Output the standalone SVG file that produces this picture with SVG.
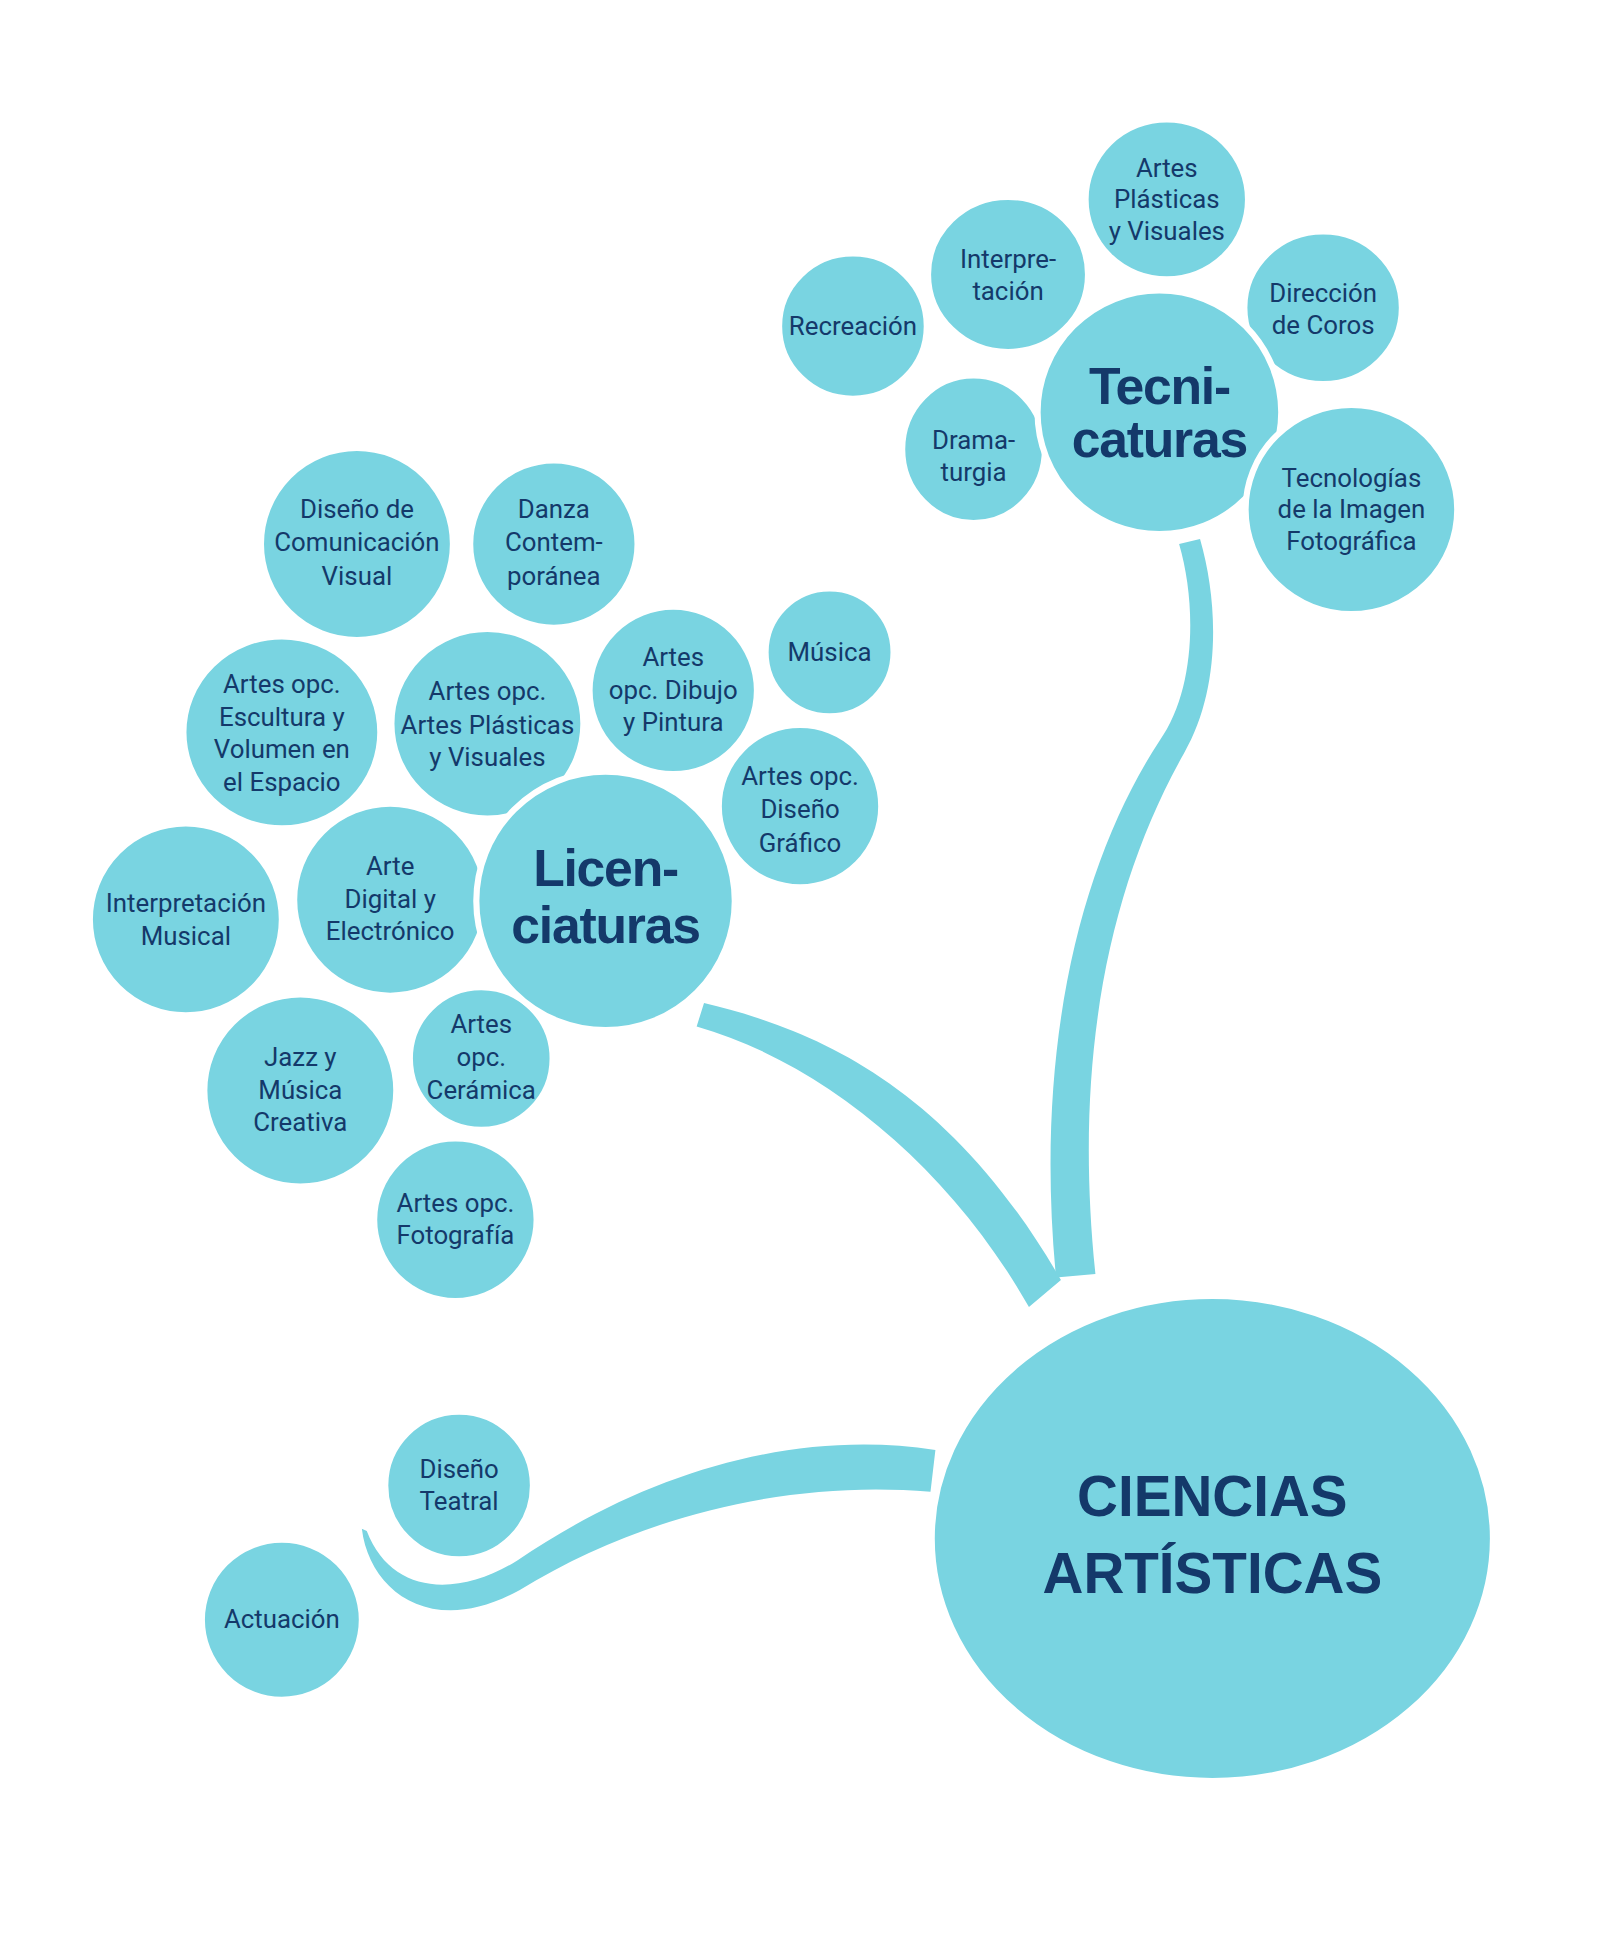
<svg xmlns="http://www.w3.org/2000/svg" width="1600" height="1941" viewBox="0 0 1600 1941">
<style>
.n{fill:#79d4e1;stroke:#fff;stroke-width:5}
.b{fill:#79d4e1}
text{font-family:Roboto,"Liberation Sans",sans-serif;fill:#14396a;text-anchor:middle}
.s{font-size:21px}
.h{font-family:"Liberation Sans",sans-serif;font-weight:bold;font-size:42px;letter-spacing:-1px}
.m{font-family:"Liberation Sans",sans-serif;font-weight:bold;font-size:46px}
</style>
<rect width="1600" height="1941" fill="#fff"/>
<g transform="scale(1.2308)">
<g id="connectors">
<path class="b" d="M572,815 C660,836 770,880 862,1040 L836,1062 C770,945 665,862 566,834 Z"/>
<path class="b" d="M958,442 C972,490 972,560 942,602 C878,700 840,850 858,1038 L890,1035 C872,862 900,722 962,612 C992,560 990,490 975,438 Z"/>
<path class="b" d="M760,1178 C640,1160 520,1200 420,1268 C372,1298 318,1296 298,1244 L294,1242 C300,1292 350,1332 422,1292 C520,1232 640,1202 756,1212 Z"/>
</g>
<g id="n-recreacion"><ellipse class="n" cx="693" cy="265" rx="60" ry="59"/><text class="s" x="693" y="272">Recreación</text></g>
<g id="n-interpretacion"><ellipse class="n" cx="819" cy="223" rx="65" ry="63"/><text class="s" x="819" y="218">Interpre-</text><text class="s" x="819" y="244">tación</text></g>
<g id="n-apv"><ellipse class="n" cx="948" cy="162" rx="66" ry="65"/><text class="s" x="948" y="144">Artes</text><text class="s" x="948" y="169">Plásticas</text><text class="s" x="948" y="195">y Visuales</text></g>
<g id="n-coros"><ellipse class="n" cx="1075" cy="250" rx="64" ry="62"/><text class="s" x="1075" y="245">Dirección</text><text class="s" x="1075" y="271">de Coros</text></g>
<g id="n-drama"><ellipse class="n" cx="791" cy="365" rx="58" ry="60"/><text class="s" x="791" y="365">Drama-</text><text class="s" x="791" y="391">turgia</text></g>
<g id="n-tecnicaturas"><ellipse class="n" cx="942" cy="335" rx="99" ry="99"/><text class="h" x="942" y="328">Tecni-</text><text class="h" x="942" y="371">caturas</text></g>
<g id="n-tecimg"><ellipse class="n" cx="1098" cy="414" rx="86" ry="85"/><text class="s" x="1098" y="396">Tecnologías</text><text class="s" x="1098" y="421">de la Imagen</text><text class="s" x="1098" y="447">Fotográfica</text></g>

<g id="n-dcv"><ellipse class="n" cx="290" cy="442" rx="78" ry="78"/><text class="s" x="290" y="421">Diseño de</text><text class="s" x="290" y="448">Comunicación</text><text class="s" x="290" y="475">Visual</text></g>
<g id="n-danza"><ellipse class="n" cx="450" cy="442" rx="68" ry="68"/><text class="s" x="450" y="421">Danza</text><text class="s" x="450" y="448">Contem-</text><text class="s" x="450" y="475">poránea</text></g>
<g id="n-escultura"><ellipse class="n" cx="229" cy="595" rx="80" ry="78"/><text class="s" x="229" y="563">Artes opc.</text><text class="s" x="229" y="590">Escultura y</text><text class="s" x="229" y="616">Volumen en</text><text class="s" x="229" y="643">el Espacio</text></g>
<g id="n-dibujo"><ellipse class="n" cx="547" cy="561" rx="68" ry="68"/><text class="s" x="547" y="541">Artes</text><text class="s" x="547" y="568">opc. Dibujo</text><text class="s" x="547" y="594">y Pintura</text></g>
<g id="n-apv2"><ellipse class="n" cx="396" cy="588" rx="78" ry="77"/><text class="s" x="396" y="569">Artes opc.</text><text class="s" x="396" y="596">Artes Plásticas</text><text class="s" x="396" y="622">y Visuales</text></g>
<g id="n-musica"><ellipse class="n" cx="674" cy="530" rx="52" ry="52"/><text class="s" x="674" y="537">Música</text></g>
<g id="n-grafico"><ellipse class="n" cx="650" cy="655" rx="66" ry="66"/><text class="s" x="650" y="638">Artes opc.</text><text class="s" x="650" y="665">Diseño</text><text class="s" x="650" y="692">Gráfico</text></g>
<g id="n-intmus"><ellipse class="n" cx="151" cy="747" rx="78" ry="78"/><text class="s" x="151" y="741">Interpretación</text><text class="s" x="151" y="768">Musical</text></g>
<g id="n-digital"><ellipse class="n" cx="317" cy="731" rx="78" ry="78"/><text class="s" x="317" y="711">Arte</text><text class="s" x="317" y="738">Digital y</text><text class="s" x="317" y="764">Electrónico</text></g>
<g id="n-jazz"><ellipse class="n" cx="244" cy="886" rx="78" ry="78"/><text class="s" x="244" y="866">Jazz y</text><text class="s" x="244" y="893">Música</text><text class="s" x="244" y="919">Creativa</text></g>
<g id="n-fotografia"><ellipse class="n" cx="370" cy="991" rx="66" ry="66"/><text class="s" x="370" y="985">Artes opc.</text><text class="s" x="370" y="1011">Fotografía</text></g>
<g id="n-ceramica"><ellipse class="n" cx="391" cy="860" rx="58" ry="58"/><text class="s" x="391" y="839">Artes</text><text class="s" x="391" y="866">opc.</text><text class="s" x="391" y="893">Cerámica</text></g>
<g id="n-licenciaturas"><ellipse class="n" cx="492" cy="732" rx="105" ry="105"/><text class="h" x="492" y="720">Licen-</text><text class="h" x="492" y="766">ciaturas</text></g>

<g id="n-disteatral"><ellipse class="n" cx="373" cy="1207" rx="60" ry="60"/><text class="s" x="373" y="1201">Diseño</text><text class="s" x="373" y="1227">Teatral</text></g>
<g id="n-actuacion"><ellipse class="n" cx="229" cy="1316" rx="65" ry="65"/><text class="s" x="229" y="1323">Actuación</text></g>
<g id="n-ciencias"><ellipse class="n" cx="985" cy="1250" rx="228" ry="197"/><text class="m" x="985" y="1232">CIENCIAS</text><text class="m" x="985" y="1294">ARTÍSTICAS</text></g>
</g>
</svg>
